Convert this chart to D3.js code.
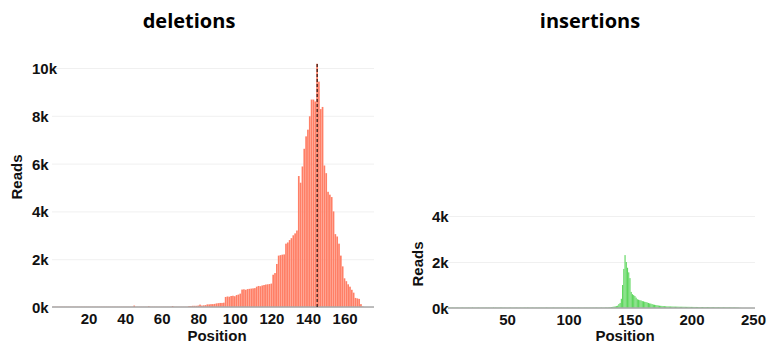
<!DOCTYPE html>
<html>
<head>
<meta charset="utf-8">
<script src="https://cdn.jsdelivr.net/npm/d3@7"></script>
<style>
  body { margin: 0; background: #fff; }
  svg text { font-family: "Liberation Sans", Arial, sans-serif; font-weight: bold; fill: #111; }
  svg .tick text, svg .lbl { font-size: 15px; }
  svg .title { font-family: "Open Sans", sans-serif; font-size: 20px; fill: #000; }
</style>
</head>
<body>
<svg id="chart" width="772" height="345"></svg>
<script>
// Data: reads per position, starting at position 1
const deletions = [
  10, 10, 10, 10, 10, 10, 10, 10, 10, 10,
  10, 10, 10, 10, 10, 10, 10, 10, 10, 10,
  10, 10, 10, 10, 10, 10, 10, 10, 10, 10,
  10, 10, 10, 10, 10, 10, 10, 10, 10, 10,
  10, 10, 10, 10, 60, 10, 10, 10, 10, 10,
  10, 10, 30, 10, 10, 10, 10, 10, 10, 10,
  10, 10, 10, 10, 10, 40, 10, 10, 10, 10,
  10, 10, 10, 10, 40, 40, 50, 50, 50, 60,
  100, 60, 70, 80, 110, 110, 120, 120, 130, 150,
  160, 170, 170, 180, 420, 440, 430, 460, 470, 450,
  500, 520, 560, 730, 740, 720, 750, 760, 770, 780,
  790, 850, 880, 870, 900, 920, 940, 950, 960, 980,
  1350, 1420, 1800, 2150, 2170, 2190, 2200, 2650, 2700, 2800,
  2880, 3000, 3080, 3200, 5480, 5200, 5880, 6620, 7140, 7420,
  7980, 8680, 8680, 8600, 10180, 9430, 8280, 8370, 5920, 5600,
  4820, 4700, 4600, 4000, 3050, 2950, 2650, 2150, 1700, 1200,
  1080, 950, 850, 720, 600, 380, 360, 340, 120, 20,
];

const insertions = [
  15, 15, 20, 15, 15, 20, 15, 15, 15, 20,
  15, 15, 15, 20, 15, 15, 15, 15, 20, 15,
  15, 20, 15, 15, 15, 15, 20, 15, 15, 15,
  15, 15, 20, 15, 15, 15, 15, 15, 20, 15,
  20, 15, 15, 15, 25, 20, 15, 15, 15, 15,
  15, 15, 20, 15, 15, 15, 15, 20, 15, 15,
  15, 15, 15, 20, 15, 15, 25, 15, 15, 15,
  20, 15, 15, 15, 15, 20, 15, 15, 15, 15,
  15, 20, 15, 15, 15, 15, 15, 20, 15, 15,
  15, 15, 15, 20, 15, 15, 15, 15, 20, 15,
  15, 15, 20, 15, 15, 15, 15, 20, 15, 15,
  15, 15, 15, 15, 20, 15, 15, 15, 15, 20,
  15, 15, 20, 15, 15, 15, 20, 15, 15, 20,
  20, 20, 30, 30, 40, 50, 60, 70, 80, 100,
  170, 220, 400, 1000, 1700, 2300, 2000, 1750, 1550, 1300,
  700, 600, 560, 520, 450, 380, 360, 340, 330, 300,
  290, 270, 260, 240, 220, 200, 190, 170, 150, 140,
  130, 120, 110, 100, 95, 90, 85, 80, 75, 70,
  70, 68, 66, 65, 64, 62, 60, 60, 58, 56,
  55, 55, 54, 53, 52, 50, 50, 50, 48, 48,
  47, 46, 45, 45, 44, 43, 42, 42, 41, 40,
  40, 39, 38, 38, 37, 36, 35, 35, 34, 33,
  32, 32, 31, 30, 30, 29, 28, 28, 27, 26,
  26, 25, 24, 24, 23, 22, 22, 20, 10, 8,
  6, 5, 5, 5, 5, 5, 5, 5, 5, 5,
];

const deletionMarker = 145;
const delTicksX = [20, 40, 60, 80, 100, 120, 140, 160];
const delTicksY = [0, 2000, 4000, 6000, 8000, 10000];
const insTicksX = [50, 100, 150, 200, 250];
const insTicksY = [0, 2000, 4000];

const svg = d3.select('#chart');

function drawPanel(p) {
  const g = svg.append('g');
  const x = d3.scaleLinear(p.xDomain, p.xRange);
  const y = d3.scaleLinear(p.yDomain, p.yRange);
  const bw = x(1) - x(0);
  const plotW = p.xRange[1] - p.xRange[0] + 2;

  // Y axis with gridlines
  const yAxis = d3.axisLeft(y)
    .tickValues(p.yTicks)
    .tickSize(-plotW)
    .tickFormat((d) => d / 1000 + 'k');
  const ya = g.append('g')
    .attr('transform', `translate(${p.xRange[0]},0)`)
    .attr('font-family', null)
    .attr('font-size', null)
    .call(yAxis);
  ya.select('.domain').remove();
  ya.selectAll('.tick line').attr('stroke', '#f0f0f0');
  ya.selectAll('.tick text')
    .attr('x', p.labelX - p.xRange[0])
    .attr('text-anchor', 'start')
    .attr('dy', '0.36em');

  // Bars
  g.append('g')
    .selectAll('rect')
    .data(p.values)
    .join('rect')
    .attr('x', (d, i) => x(i + 1) - bw / 2)
    .attr('width', Math.max(bw - p.gap, 0.5))
    .attr('y', (d) => y(d))
    .attr('height', (d) => y(0) - y(d))
    .attr('fill', p.color);

  // Baseline
  g.append('line')
    .attr('x1', p.xRange[0])
    .attr('x2', p.xRange[1] + 2)
    .attr('y1', y(0))
    .attr('y2', y(0))
    .attr('stroke', '#a8a8a8')
    .attr('stroke-width', 1.5);

  // X axis
  const xAxis = d3.axisBottom(x)
    .tickValues(p.xTicks)
    .tickSize(0)
    .tickPadding(6);
  const xa = g.append('g')
    .attr('transform', `translate(0,${y(0)})`)
    .attr('font-family', null)
    .attr('font-size', null)
    .call(xAxis);
  xa.select('.domain').remove();

  // Labels
  g.append('text')
    .attr('class', 'title')
    .attr('x', p.titleX)
    .attr('y', 28)
    .attr('text-anchor', 'middle')
    .text(p.title);

  g.append('text')
    .attr('class', 'lbl')
    .attr('transform', `translate(${p.readsX},${p.readsY}) rotate(-90)`)
    .attr('text-anchor', 'middle')
    .attr('dy', '0.36em')
    .text('Reads');

  g.append('text')
    .attr('class', 'lbl')
    .attr('x', p.posX)
    .attr('y', 341)
    .attr('text-anchor', 'middle')
    .text('Position');

  return { g, x, y };
}

// Deletions panel
const del = drawPanel({
  values: deletions,
  xDomain: [0, 175],
  xRange: [52, 372],
  yDomain: [0, 10000],
  yRange: [307, 68],
  xTicks: delTicksX,
  yTicks: delTicksY,
  color: '#ff7f66',
  gap: 0.15,
  title: 'deletions',
  titleX: 189,
  labelX: 32,
  readsX: 17,
  readsY: 177,
  posX: 217,
});

// Dashed marker at the peak position
del.g.append('line')
  .attr('x1', del.x(deletionMarker))
  .attr('x2', del.x(deletionMarker))
  .attr('y1', 64)
  .attr('y2', del.y(0))
  .attr('stroke', '#000')
  .attr('stroke-width', 1)
  .attr('stroke-dasharray', '3,2');

// Insertions panel
drawPanel({
  values: insertions,
  xDomain: [2, 250],
  xRange: [448, 753],
  yDomain: [0, 4000],
  yRange: [308, 216],
  xTicks: insTicksX,
  yTicks: insTicksY,
  color: '#5dd65d',
  gap: 0.1,
  title: 'insertions',
  titleX: 590,
  labelX: 432,
  readsX: 418,
  readsY: 264,
  posX: 625,
});
</script>
</body>
</html>
